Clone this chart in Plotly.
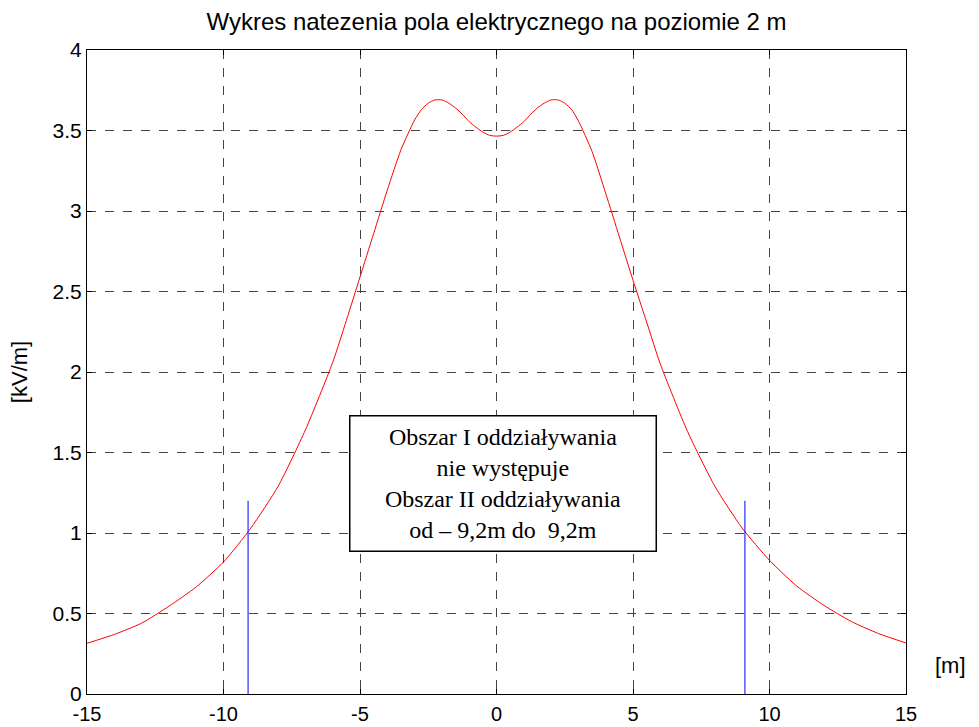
import plotly.graph_objects as go

# Electric field strength at 2 m height [kV/m] vs distance [m]
x_vals = [-15, -14, -13, -12, -11, -10, -9, -8, -7, -6, -5.5, -5, -4.5, -4, -3.5, -3,
          -2.75, -2.5, -2.25, -2, -1.75, -1.5, -1.25, -1, -0.75, -0.5, -0.25, 0,
          0.25, 0.5, 0.75, 1, 1.25, 1.5, 1.75, 2, 2.25, 2.5, 2.75, 3, 3.5, 4, 4.5,
          5, 5.5, 6, 7, 8, 9, 10, 11, 12, 13, 14, 15]
e_vals = [0.315, 0.37, 0.44, 0.545, 0.665, 0.82, 1.03, 1.29, 1.64, 2.06, 2.32, 2.59,
          2.86, 3.13, 3.38, 3.565, 3.63, 3.67, 3.69, 3.69, 3.67, 3.64, 3.6, 3.555,
          3.52, 3.49, 3.47, 3.465, 3.47, 3.49, 3.52, 3.555, 3.6, 3.64, 3.67, 3.69,
          3.69, 3.67, 3.63, 3.56, 3.37, 3.11, 2.84, 2.57, 2.31, 2.05, 1.63, 1.29,
          1.03, 0.83, 0.67, 0.55, 0.45, 0.375, 0.317]

# Boundaries of influence area II
boundary_x = [-9.1, 9.1]
boundary_top = 1.2

title_text = "Wykres natezenia pola elektrycznego na poziomie 2 m"
box_lines = ["Obszar I oddziaływania", "nie występuje",
             "Obszar II oddziaływania", "od – 9,2m do  9,2m"]

fig = go.Figure()
fig.add_trace(go.Scatter(x=x_vals, y=e_vals, mode="lines", line_shape="spline",
                         line=dict(color="#ff0000", width=1, smoothing=0.6), showlegend=False))
for bx in boundary_x:
    fig.add_trace(go.Scatter(x=[bx, bx], y=[0, boundary_top], mode="lines",
                             line=dict(color="#0000ff", width=1), showlegend=False))

fig.add_annotation(x=0.24, y=1.31, xref="x", yref="y", text="<br>".join(box_lines),
                   showarrow=False, align="center",
                   font=dict(family="Liberation Serif", size=24, color="black"),
                   bordercolor="black", borderwidth=1.5, bgcolor="white",
                   width=303, height=132)
fig.add_annotation(x=(950 - 87) / 819, y=(694 - 665) / 644, xref="paper", yref="paper",
                   text="[m]", showarrow=False, xanchor="center", yanchor="middle",
                   font=dict(family="Liberation Sans", size=22, color="black"))

axis_common = dict(showline=True, linecolor="black", linewidth=1.2, mirror="ticks",
                   ticks="inside", ticklen=5, tickcolor="black",
                   showgrid=True, gridcolor="#444444", gridwidth=1, griddash="dash",
                   zeroline=False, automargin=False,
                   tickfont=dict(family="Liberation Sans", size=21, color="black"))

fig.update_xaxes(range=[-15, 15], tickvals=[-15, -10, -5, 0, 5, 10, 15],
                 ticktext=["-15", "-10", "-5", "0", "5", "10", "15"],
                 ticklabelstandoff=2, **axis_common)
fig.update_xaxes(tickfont=dict(size=20))
fig.update_yaxes(range=[0, 4], tickvals=[0, 0.5, 1, 1.5, 2, 2.5, 3, 3.5, 4],
                 ticktext=["0", "0.5", "1", "1.5", "2", "2.5", "3", "3.5", "4"],
                 title=dict(text="[kV/m]", font=dict(family="Liberation Sans", size=22, color="black"),
                            standoff=18),
                 **axis_common)

fig.update_layout(
    width=979, height=727,
    margin=dict(l=87, r=73, t=50, b=33),
    paper_bgcolor="white", plot_bgcolor="white",
    title=dict(text=title_text, x=(87 + 906) / 2 / 979, xanchor="center", y=1 - 22 / 727,
               yanchor="middle", font=dict(family="Liberation Sans", size=24, color="black")),
)

fig.write_html("out.html")
